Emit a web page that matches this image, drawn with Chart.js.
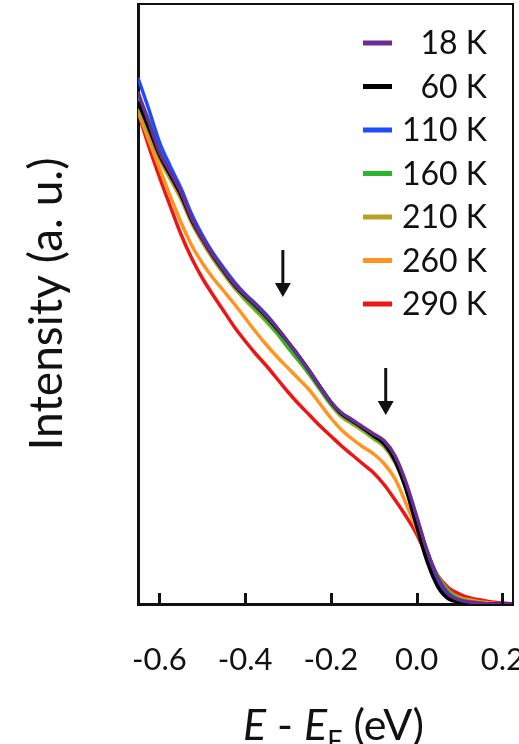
<!DOCTYPE html>
<html>
<head>
<meta charset="utf-8">
<script src="https://cdn.jsdelivr.net/npm/chart.js@4.4.1/dist/chart.umd.min.js"></script>
<style>
  html, body { margin: 0; padding: 0; background: #fff; overflow: hidden; }
  canvas { display: block; }
</style>
</head>
<body>
<canvas id="myChart" width="560" height="744"></canvas>
<script>
// binding energy grid (eV)
const energy = [-0.65, -0.625, -0.6, -0.575, -0.55, -0.525, -0.5, -0.475, -0.45, -0.425,
  -0.4, -0.375, -0.35, -0.325, -0.3, -0.275, -0.25, -0.225, -0.2, -0.175,
  -0.15, -0.125, -0.1, -0.075, -0.05, -0.025, 0, 0.025, 0.05, 0.075,
  0.1, 0.125, 0.15, 0.175, 0.2, 0.225];

// intensity (a. u.) per temperature
const k18 = [5.12, 4.82, 4.52, 4.32, 4.12, 3.86, 3.66, 3.49, 3.34, 3.20, 3.09, 2.99, 2.88, 2.76, 2.62, 2.48, 2.33, 2.17, 2.02, 1.91, 1.84, 1.77, 1.70, 1.63, 1.48, 1.22, 0.88, 0.53, 0.26, 0.10, 0.04, 0.02, 0.01, 0.00, 0.00, 0.00];
const k60 = [5.02, 4.76, 4.49, 4.29, 4.09, 3.84, 3.65, 3.48, 3.33, 3.19, 3.08, 2.98, 2.87, 2.75, 2.62, 2.48, 2.33, 2.17, 2.02, 1.90, 1.83, 1.76, 1.68, 1.60, 1.43, 1.15, 0.78, 0.42, 0.17, 0.05, 0.02, 0.01, 0.00, 0.00, 0.00, 0.00];
const k110 = [5.26, 4.95, 4.62, 4.38, 4.16, 3.90, 3.69, 3.51, 3.36, 3.22, 3.10, 3.00, 2.89, 2.76, 2.62, 2.48, 2.33, 2.17, 2.02, 1.91, 1.84, 1.76, 1.69, 1.62, 1.46, 1.19, 0.84, 0.48, 0.22, 0.08, 0.03, 0.01, 0.00, 0.00, 0.00, 0.00];
const k160 = [5.08, 4.84, 4.56, 4.34, 4.12, 3.87, 3.66, 3.48, 3.32, 3.18, 3.06, 2.95, 2.84, 2.71, 2.57, 2.44, 2.30, 2.15, 2.00, 1.89, 1.82, 1.75, 1.67, 1.59, 1.44, 1.18, 0.85, 0.52, 0.27, 0.12, 0.05, 0.02, 0.01, 0.00, 0.00, 0.00];
const k210 = [4.95, 4.70, 4.45, 4.25, 4.05, 3.81, 3.62, 3.45, 3.30, 3.16, 3.04, 2.93, 2.82, 2.70, 2.56, 2.43, 2.29, 2.14, 1.99, 1.87, 1.80, 1.73, 1.65, 1.57, 1.41, 1.16, 0.84, 0.52, 0.28, 0.13, 0.06, 0.03, 0.01, 0.00, 0.00, 0.00];
const k260 = [4.93, 4.64, 4.36, 4.08, 3.82, 3.59, 3.41, 3.26, 3.13, 3.00, 2.86, 2.72, 2.59, 2.47, 2.36, 2.25, 2.14, 2.00, 1.86, 1.74, 1.65, 1.57, 1.50, 1.40, 1.25, 1.01, 0.75, 0.46, 0.25, 0.12, 0.06, 0.04, 0.02, 0.01, 0.00, 0.00];
const k290 = [4.92, 4.58, 4.27, 3.98, 3.70, 3.46, 3.26, 3.09, 2.93, 2.77, 2.63, 2.50, 2.38, 2.25, 2.12, 2.00, 1.89, 1.78, 1.68, 1.58, 1.49, 1.40, 1.31, 1.19, 1.04, 0.88, 0.70, 0.47, 0.28, 0.16, 0.10, 0.06, 0.04, 0.02, 0.01, 0.00];

const seriesLabels = ['18 K', '60 K', '110 K', '160 K', '210 K', '260 K', '290 K'];
const seriesColors = ['#6b2c94', '#000000', '#1f4bff', '#2db52d', '#b8a226', '#ff9420', '#ee1515'];
const seriesValues = [k18, k60, k110, k160, k210, k260, k290];

const xTicks = [-0.6, -0.4, -0.2, 0.0, 0.2];

// arrows: [energy, intensity start, intensity tip]
const arrows = [[-0.312, 3.54, 3.07], [-0.072, 2.36, 1.89]];

const FONT = 'Lato, "Open Sans", sans-serif';

const extras = {
  id: 'extras',
  afterDraw(chart) {
    const { ctx, chartArea: a, scales: { x, y } } = chart;
    ctx.save();

    // top and right frame
    ctx.strokeStyle = '#111';
    ctx.lineWidth = 2;
    ctx.beginPath();
    ctx.moveTo(a.left, a.top);
    ctx.lineTo(a.right, a.top);
    ctx.lineTo(a.right, a.bottom);
    ctx.stroke();

    // inward x ticks
    ctx.lineWidth = 3;
    x.ticks.forEach(t => {
      const px = Math.round(x.getPixelForValue(t.value)) + 0.5;
      ctx.beginPath();
      ctx.moveTo(px, a.bottom);
      ctx.lineTo(px, a.bottom - 11);
      ctx.stroke();
    });

    // arrows
    ctx.fillStyle = '#111';
    arrows.forEach(([e, v0, v1]) => {
      const px = x.getPixelForValue(e);
      const y0 = y.getPixelForValue(v0);
      const y1 = y.getPixelForValue(v1);
      ctx.lineWidth = 3;
      ctx.beginPath();
      ctx.moveTo(px, y0);
      ctx.lineTo(px, y1 - 12);
      ctx.stroke();
      ctx.beginPath();
      ctx.moveTo(px - 8, y1 - 14);
      ctx.lineTo(px + 8, y1 - 14);
      ctx.lineTo(px, y1);
      ctx.closePath();
      ctx.fill();
    });

    // legend
    ctx.font = '32px ' + FONT;
    ctx.textAlign = 'right';
    ctx.textBaseline = 'middle';
    chart.data.datasets.forEach((ds, i) => {
      const ly = a.top + 39 + i * 43.5;
      ctx.strokeStyle = ds.borderColor;
      ctx.lineWidth = 5;
      ctx.beginPath();
      ctx.moveTo(a.right - 150, ly);
      ctx.lineTo(a.right - 121, ly);
      ctx.stroke();
      ctx.fillStyle = '#111';
      ctx.fillText(ds.label, a.right - 26, ly + 1);
    });

    // x axis title with subscript
    const parts = [
      { t: 'E', f: 'italic 43px ' + FONT, dy: 0 },
      { t: ' - ', f: '43px ' + FONT, dy: 0 },
      { t: 'E', f: 'italic 43px ' + FONT, dy: 0 },
      { t: 'F', f: '27px ' + FONT, dy: 10 },
      { t: ' (eV)', f: '43px ' + FONT, dy: 0 }
    ];
    let total = 0;
    parts.forEach(p => { ctx.font = p.f; p.w = ctx.measureText(p.t).width; total += p.w; });
    let tx = (a.left + a.right) / 2 + 8 - total / 2;
    const base = a.bottom + 136;
    ctx.textAlign = 'left';
    ctx.textBaseline = 'alphabetic';
    ctx.fillStyle = '#111';
    parts.forEach(p => { ctx.font = p.f; ctx.fillText(p.t, tx, base + p.dy); tx += p.w; });

    ctx.restore();
  }
};

new Chart(document.getElementById('myChart'), {
  type: 'line',
  data: {
    datasets: seriesValues.map((vals, i) => ({
      label: seriesLabels[i],
      data: energy.map((e, j) => ({ x: e, y: vals[j] })),
      borderColor: seriesColors[i],
      borderWidth: 3.5,
      pointRadius: 0,
      fill: false,
      cubicInterpolationMode: 'monotone'
    }))
  },
  options: {
    responsive: false,
    animation: false,
    devicePixelRatio: 1,
    layout: { padding: { left: 0, top: 4, right: 47, bottom: 0 } },
    plugins: { legend: { display: false }, tooltip: { enabled: false } },
    scales: {
      x: {
        type: 'linear',
        min: -0.65,
        max: 0.225,
        afterBuildTicks: scale => { scale.ticks = xTicks.map(v => ({ value: v })); },
        afterFit: scale => { scale.height = 140; },
        grid: { display: false },
        border: { display: true, color: '#111', width: 3 },
        ticks: {
          padding: 29,
          color: '#111',
          font: { family: FONT, size: 31 },
          maxRotation: 0,
          callback: v => v.toFixed(1)
        }
      },
      y: {
        min: 0,
        max: 6,
        afterFit: scale => { scale.width = 138; },
        grid: { display: false },
        border: { display: true, color: '#111', width: 3 },
        ticks: { display: false },
        title: {
          display: true,
          text: 'Intensity (a. u.)',
          color: '#111',
          font: { family: FONT, size: 46 },
          padding: { top: 20, bottom: 0 }
        }
      }
    }
  },
  plugins: [extras]
});
</script>
</body>
</html>
